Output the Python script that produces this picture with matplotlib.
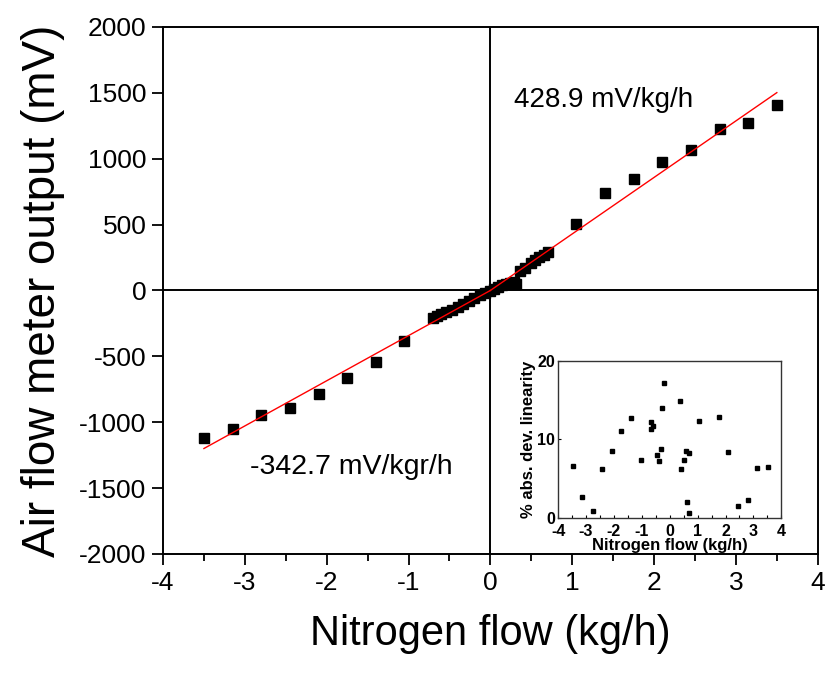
import matplotlib
matplotlib.use("Agg")
import matplotlib.pyplot as plt
from matplotlib import font_manager
from matplotlib.ticker import MultipleLocator
import numpy as np

# main calibration points (kg/h, mV)
flow_outer_neg = [-3.50, -3.15, -2.80, -2.45, -2.10, -1.75, -1.40, -1.05, -0.70]
out_outer_neg = [-1116, -1053, -947, -889, -783, -664, -540, -386, -207]
flow_inner_neg = [-0.65, -0.60, -0.54, -0.47, -0.40, -0.33, -0.26, -0.20, -0.13, -0.07, 0.0]
out_inner_neg = [-196, -182, -164, -148, -127, -103, -77, -57, -38, -20, -5]
flow_inner_pos = [0.04, 0.09, 0.14, 0.19, 0.24, 0.29, 0.31, 0.36, 0.42, 0.50, 0.55, 0.60, 0.65]
out_inner_pos = [12, 25, 38, 50, 58, 64, 48, 150, 172, 205, 228, 252, 268]
flow_outer_pos = [0.70, 1.05, 1.40, 1.75, 2.10, 2.45, 2.80, 3.15, 3.50]
out_outer_pos = [288, 508, 737, 848, 977, 1068, 1227, 1270, 1409]

# fitted sensitivities (mV per kg/h)
slope_neg = 342.7
slope_pos = 428.9
fit_x_neg = [-3.5, 0.0]
fit_x_pos = [0.0, 3.5]

# inset: % deviation from linearity
dev_flow = [-3.48, -3.14, -2.76, -2.43, -2.08, -1.73, -1.39, -1.03, -0.68, -0.68,
            -0.60, -0.47, -0.40, -0.33, -0.26, -0.20, 0.38, 0.42, 0.50, 0.58,
            0.63, 0.70, 0.70, 1.06, 1.76, 2.10, 2.45, 2.80, 3.14, 3.51]
dev_pct = [6.6, 2.7, 0.9, 6.2, 8.5, 11.0, 12.7, 7.3, 12.2, 11.3,
           11.7, 8.0, 7.2, 8.7, 14.0, 17.1, 14.9, 6.2, 7.3, 8.5,
           2.0, 8.3, 0.6, 12.3, 12.8, 8.4, 1.5, 2.2, 6.3, 6.4]


def pick_font(names):
    have = {f.name for f in font_manager.fontManager.ttflist}
    for n in names:
        if n in have:
            return n
    return "DejaVu Sans"


REG = pick_font(["Liberation Sans", "Arial", "DejaVu Sans"])
plt.rcParams["font.family"] = [REG, "DejaVu Sans"]
plt.rcParams["axes.unicode_minus"] = False

fig = plt.figure(figsize=(8.33, 6.81), dpi=100)
ax = fig.add_axes([0.1957, 0.1865, 0.786, 0.774])

ax.axhline(0, color="black", lw=1.4, zorder=1)
ax.axvline(0, color="black", lw=1.4, zorder=1)

fx = np.concatenate([flow_outer_neg, flow_inner_neg, flow_inner_pos, flow_outer_pos])
fy = np.concatenate([out_outer_neg, out_inner_neg, out_inner_pos, out_outer_pos])
ax.plot(fx, fy, "s", color="black", ms=7.5, mec="black", zorder=2)

xn = np.array(fit_x_neg)
xp = np.array(fit_x_pos)
ax.plot(xn, slope_neg * xn, color="red", lw=1.0, zorder=3)
ax.plot(xp, slope_pos * xp, color="red", lw=1.0, zorder=3)

ax.set_xlim(-4, 4)
ax.set_ylim(-2000, 2000)
ax.xaxis.set_major_locator(MultipleLocator(1))
ax.xaxis.set_minor_locator(MultipleLocator(0.5))
ax.yaxis.set_major_locator(MultipleLocator(500))
ax.tick_params(axis="both", which="major", direction="out", length=8, width=1.3,
               labelsize=19, pad=4)
ax.tick_params(axis="x", which="minor", direction="out", length=5, width=1.3)
for s in ax.spines.values():
    s.set_linewidth(1.4)

ax.set_xlabel("Nitrogen flow (kg/h)", fontsize=30, labelpad=14)
ax.set_ylabel("Air flow meter output (mV)", fontsize=33, labelpad=10)

ax.text(0.29, 1447, "428.9 mV/kg/h", fontsize=20, va="center", ha="left")
ax.text(-2.94, -1341, "-342.7 mV/kgr/h", fontsize=20.5, va="center", ha="left")

# inset
ins = fig.add_axes([0.670, 0.2398, 0.268, 0.2305])
ins.plot(dev_flow, dev_pct, "s", color="black", ms=2.8, mec="black")
ins.set_xlim(-4, 4)
ins.set_ylim(0, 20)
ins.xaxis.set_major_locator(MultipleLocator(1))
ins.xaxis.set_minor_locator(MultipleLocator(0.5))
ins.yaxis.set_major_locator(MultipleLocator(10))
ins.tick_params(axis="both", which="both", direction="in", length=2, width=0.8,
                labelsize=11.5)
ins.tick_params(axis="x", pad=4.5)
ins.tick_params(axis="y", pad=2)
for lab in ins.get_xticklabels() + ins.get_yticklabels():
    lab.set_fontweight("bold")
for s in ins.spines.values():
    s.set_linewidth(1.0)
    s.set_color("#333333")
ins.set_xlabel("Nitrogen flow (kg/h)", fontsize=12, fontweight="bold", labelpad=-1)
ins.set_ylabel("% abs. dev. linearity", fontsize=12, fontweight="bold", labelpad=1)

fig.savefig("out.png", dpi=100)
